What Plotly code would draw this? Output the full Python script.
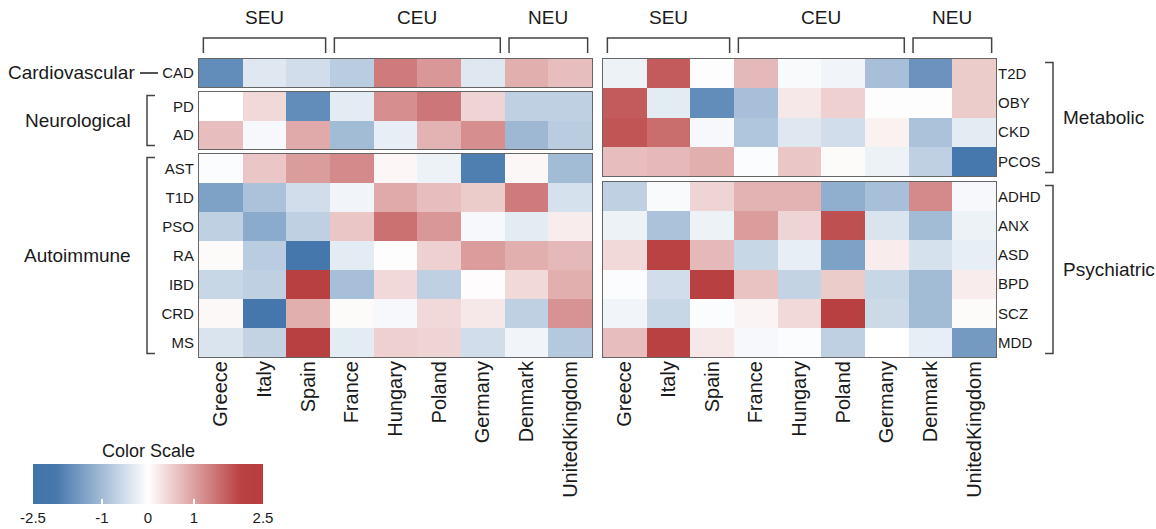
import plotly.graph_objects as go

W, H = 1156, 529

countries = ["Greece", "Italy", "Spain", "France", "Hungary", "Poland", "Germany", "Denmark", "UnitedKingdom"]
regions = ["SEU", "CEU", "NEU"]
region_counts = [3, 4, 2]

cardio_rows = ["CAD"]
cardio_vals = [[-1.7, -0.35, -0.5, -0.75, 1.4, 1.1, -0.35, 0.85, 0.7]]

neuro_rows = ["PD", "AD"]
neuro_vals = [
    [0.0, 0.4, -1.7, -0.3, 1.2, 1.45, 0.45, -0.7, -0.7],
    [0.7, -0.1, 0.9, -1.0, -0.25, 0.8, 1.2, -1.05, -0.75],
]

auto_rows = ["AST", "T1D", "PSO", "RA", "IBD", "CRD", "MS"]
auto_vals = [
    [-0.05, 0.6, 1.05, 1.25, 0.1, -0.2, -1.9, 0.08, -1.0],
    [-1.4, -0.9, -0.5, -0.15, 0.9, 0.7, 0.55, 1.4, -0.45],
    [-0.7, -1.25, -0.7, 0.6, 1.5, 1.1, -0.1, -0.3, 0.2],
    [0.05, -0.75, -2.1, -0.3, 0.02, 0.5, 1.05, 0.85, 0.75],
    [-0.6, -0.7, 2.2, -0.95, 0.4, -0.7, 0.03, 0.4, 0.85],
    [0.07, -2.1, 0.85, 0.05, -0.1, 0.4, 0.25, -0.7, 1.15],
    [-0.4, -0.65, 2.25, -0.3, 0.5, 0.45, -0.5, -0.15, -0.8],
]

meta_rows = ["T2D", "OBY", "CKD", "PCOS"]
meta_vals = [
    [-0.2, 1.75, 0.02, 0.75, -0.08, -0.15, -0.95, -1.6, 0.55],
    [1.75, -0.3, -1.7, -0.95, 0.25, 0.5, 0.02, 0.02, 0.55],
    [1.8, 1.55, -0.1, -0.85, -0.35, -0.5, 0.15, -0.9, -0.3],
    [0.7, 0.75, 0.85, -0.05, 0.6, 0.05, -0.2, -0.7, -2.05],
]

psych_rows = ["ADHD", "ANX", "ASD", "BPD", "SCZ", "MDD"]
psych_vals = [
    [-0.7, -0.07, 0.45, 0.8, 0.8, -1.2, -0.95, 1.25, -0.1],
    [-0.2, -0.9, -0.2, 1.05, 0.45, 1.85, -0.4, -1.0, -0.2],
    [0.4, 2.0, 0.75, -0.6, -0.25, -1.4, 0.2, -0.45, -0.25],
    [-0.05, -0.5, 2.2, 0.65, -0.65, 0.55, -0.6, -1.0, 0.2],
    [-0.15, -0.6, -0.05, 0.12, 0.4, 2.2, -0.55, -1.0, 0.05],
    [0.7, 2.1, 0.25, -0.1, -0.05, -0.7, 0.0, -0.25, -1.5],
]

group_names = ["Cardiovascular", "Neurological", "Autoimmune", "Metabolic", "Psychiatric"]
cbar_title = "Color Scale"
cbar_ticks = [-2.5, -1, 0, 1, 2.5]

FONT = "Liberation Sans, Arial, sans-serif"
TXT = "#1a1a1a"
LINE = "#666666"
BR = "#444444"


def pxx(v):
    return v / W


def pxy(v):
    return 1 - v / H


left_dom = [pxx(199), pxx(592)]
right_dom = [pxx(603), pxx(996)]

blocks = [
    ("Cardiovascular", cardio_rows, cardio_vals, left_dom, (59, 87), "left", False),
    ("Neurological", neuro_rows, neuro_vals, left_dom, (92, 149), "left", False),
    ("Autoimmune", auto_rows, auto_vals, left_dom, (154, 357), "left", True),
    ("Metabolic", meta_rows, meta_vals, right_dom, (59, 176), "right", False),
    ("Psychiatric", psych_rows, psych_vals, right_dom, (182, 357), "right", True),
]

fig = go.Figure()
layout = {}
for i, (name, rows, vals, xdom, (ytop, ybot), side, showx) in enumerate(blocks):
    k = "" if i == 0 else str(i + 1)
    fig.add_trace(go.Heatmap(
        z=vals, x=list(range(len(countries))), y=list(range(len(rows))),
        coloraxis="coloraxis", xaxis="x" + k, yaxis="y" + k,
        xgap=0, ygap=0, hoverinfo="skip",
    ))
    layout["xaxis" + k] = dict(
        domain=xdom, anchor="y" + k, range=[-0.5, len(countries) - 0.5],
        showgrid=False, zeroline=False, showline=True, mirror=True,
        linecolor=LINE, linewidth=1.2, ticks="",
        showticklabels=showx, tickvals=list(range(len(countries))),
        ticktext=countries, tickangle=-90,
        tickfont=dict(family=FONT, size=20, color=TXT),
        ticklabelstandoff=-5,
    )
    layout["yaxis" + k] = dict(
        domain=[pxy(ybot), pxy(ytop)], anchor="x" + k,
        range=[len(rows) - 0.5, -0.5], side=side,
        showgrid=False, zeroline=False, showline=True, mirror=True,
        linecolor=LINE, linewidth=1.2, ticks="",
        tickvals=list(range(len(rows))), ticktext=rows,
        tickfont=dict(family=FONT, size=15, color=TXT),
        ticklabelstandoff=1 if side == "left" else -2,
    )

shapes = []
annotations = []

# Top region brackets for both panels
y_line = pxy(38)
y_end = pxy(53)
for xr in ["x", "x4"]:
    start = 0
    for reg, cnt in zip(regions, region_counts):
        end = start + cnt - 1
        x0 = start - 0.5 + 0.1
        x1 = end + 0.5 - 0.1
        shapes.append(dict(type="path", xref=xr, yref="paper",
                           path=f"M {x0},{y_end} L {x0},{y_line} L {x1},{y_line} L {x1},{y_end}",
                           line=dict(color=BR, width=1.5)))
        annotations.append(dict(text=reg, xref=xr, yref="paper", x=(start + end) / 2, y=pxy(18),
                                showarrow=False, font=dict(family=FONT, size=19, color=TXT),
                                xanchor="center", yanchor="middle"))
        start = end + 1

# Cardiovascular dash
shapes.append(dict(type="line", xref="paper", yref="y", x0=pxx(140), x1=pxx(158), y0=0, y1=0,
                   line=dict(color=TXT, width=1.5)))
annotations.append(dict(text=group_names[0], xref="paper", yref="y", x=pxx(137), y=0,
                        showarrow=False, xanchor="right", yanchor="middle",
                        font=dict(family=FONT, size=19, color=TXT)))

# Side brackets
side_specs = [
    ("y2", len(neuro_rows), group_names[1], "left"),
    ("y3", len(auto_rows), group_names[2], "left"),
    ("y4", len(meta_rows), group_names[3], "right"),
    ("y5", len(psych_rows), group_names[4], "right"),
]
for yr, n, label, side in side_specs:
    y0 = -0.5 + 0.12
    y1 = n - 0.5 - 0.12
    if side == "left":
        xv, xt = pxx(147), pxx(155)
        ax, anc = pxx(133), "right"
    else:
        xv, xt = pxx(1053), pxx(1045)
        ax, anc = pxx(1061), "left"
    shapes.append(dict(type="path", xref="paper", yref=yr,
                       path=f"M {xt},{y0} L {xv},{y0} L {xv},{y1} L {xt},{y1}",
                       line=dict(color=BR, width=1.5)))
    annotations.append(dict(text=label, xref="paper", yref=yr, x=ax, y=(n - 1) / 2,
                            showarrow=False, xanchor=anc, yanchor="middle",
                            font=dict(family=FONT, size=19, color=TXT)))

# Colour bar title
annotations.append(dict(text=cbar_title, xref="paper", yref="paper", x=pxx(148), y=pxy(451),
                        showarrow=False, xanchor="center", yanchor="middle",
                        font=dict(family=FONT, size=18, color=TXT)))

colorscale = [
    [0.0, "rgb(66,116,170)"],
    [0.1, "rgb(70,120,173)"],
    [0.5, "rgb(255,255,255)"],
    [0.9, "rgb(186,66,67)"],
    [1.0, "rgb(183,61,63)"],
]

fig.update_layout(
    width=W, height=H,
    margin=dict(l=0, r=0, t=0, b=0, autoexpand=False),
    paper_bgcolor="white", plot_bgcolor="white",
    font=dict(family=FONT, color=TXT),
    coloraxis=dict(
        colorscale=colorscale, cmin=-2.5, cmax=2.5,
        colorbar=dict(
            orientation="h", x=pxx(33), xanchor="left", xref="paper",
            y=pxy(464), yanchor="top", yref="paper",
            lenmode="pixels", len=230, thicknessmode="pixels", thickness=40,
            xpad=0, ypad=0, outlinewidth=0,
            tickvals=cbar_ticks, ticktext=[str(t) for t in cbar_ticks],
            ticks="inside", ticklen=5, tickcolor="white", tickwidth=1.5,
            tickfont=dict(family=FONT, size=15, color=TXT),
        ),
    ),
    shapes=shapes,
    annotations=annotations,
    showlegend=False,
    **layout,
)

fig.write_html("out.html", config={"displayModeBar": False},
               post_script="document.body.style.margin='0';")
